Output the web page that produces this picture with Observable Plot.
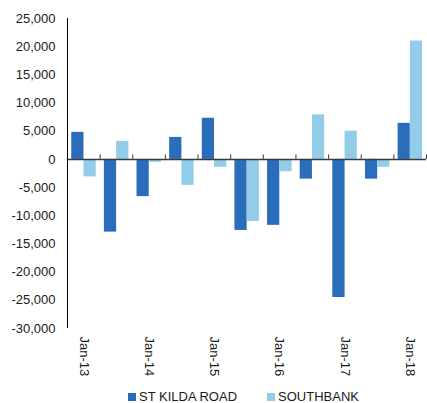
<!DOCTYPE html>
<html><head><meta charset="utf-8">
<script src="https://cdn.jsdelivr.net/npm/d3@7"></script>
<script src="https://cdn.jsdelivr.net/npm/@observablehq/plot@0.6"></script>
<style>
body{margin:0;background:#fff;font-family:"Liberation Sans",Arial,sans-serif;}
#chart svg{display:block;}
#legend{display:flex;justify-content:center;align-items:center;height:15px;padding-left:60px;font-size:13px;color:#1a1a1a;}
.item{display:flex;align-items:center;margin:0 15px;}
.sw{width:8px;height:8px;margin-right:3px;}
</style></head><body><div id="chart"></div><div id="legend"></div>
<script>
const periods = ["Jan-13","Jul-13","Jan-14","Jul-14","Jan-15","Jul-15","Jan-16","Jul-16","Jan-17","Jul-17","Jan-18"];
const series = ["ST KILDA ROAD","SOUTHBANK"];
const stKilda = [4800, -12900, -6600, 3900, 7300, -12600, -11700, -3500, -24500, -3500, 6400];
const southbank = [-3100, 3200, -500, -4600, -1400, -11000, -2200, 7900, 5000, -1400, 21000];
const xTickLabels = ["Jan-13","Jan-14","Jan-15","Jan-16","Jan-17","Jan-18"];
const yTicks = [25000,20000,15000,10000,5000,0,-5000,-10000,-15000,-20000,-25000,-30000];
const colors = ["#2A6EBB","#93CCE8"];

const rows = periods.flatMap((p, i) => [
  {period: p, i, s: 0, series: series[0], value: stKilda[i]},
  {period: p, i, s: 1, series: series[1], value: southbank[i]}
]);
const pad = 0.13, bw = 0.375;

const chart = Plot.plot({
  width: 427,
  height: 389,
  marginLeft: 67,
  marginRight: 1,
  marginTop: 18,
  marginBottom: 61,
  style: {fontFamily: "'Liberation Sans', Arial, sans-serif", fontSize: "13px", color: "#1a1a1a", background: "#fff"},
  x: {domain: [0, periods.length]},
  y: {domain: [-30000, 25000]},
  color: {domain: series, range: colors},
  marks: [
    Plot.rect(rows, {
      x1: d => d.i + pad + d.s * bw,
      x2: d => d.i + pad + (d.s + 1) * bw,
      y1: 0,
      y2: "value",
      fill: "series"
    }),
    Plot.ruleY([0], {stroke: "#3a3a3a", strokeWidth: 1.5}),
    Plot.ruleX(d3.range(1, periods.length + 1), {y1: 0, y2: 800, stroke: "#3a3a3a", strokeWidth: 1}),
    Plot.ruleX([0], {stroke: "#000", strokeWidth: 1}),
    Plot.axisY({ticks: yTicks, tickSize: 0, tickPadding: 12, tickFormat: d => d.toLocaleString("en-US"), label: null, fontSize: 13}),
    Plot.axisX({
      ticks: xTickLabels.map(l => periods.indexOf(l) + 0.5),
      tickFormat: v => periods[Math.floor(v)],
      tickRotate: 90, tickSize: 0, tickPadding: 8, label: null, fontSize: 13
    })
  ]
});
document.getElementById("chart").append(chart);

const legend = document.getElementById("legend");
series.forEach((s, k) => {
  const it = document.createElement("div"); it.className = "item";
  const sw = document.createElement("div"); sw.className = "sw"; sw.style.background = colors[k];
  const t = document.createElement("span"); t.textContent = s;
  it.append(sw, t); legend.append(it);
});
</script></body></html>
